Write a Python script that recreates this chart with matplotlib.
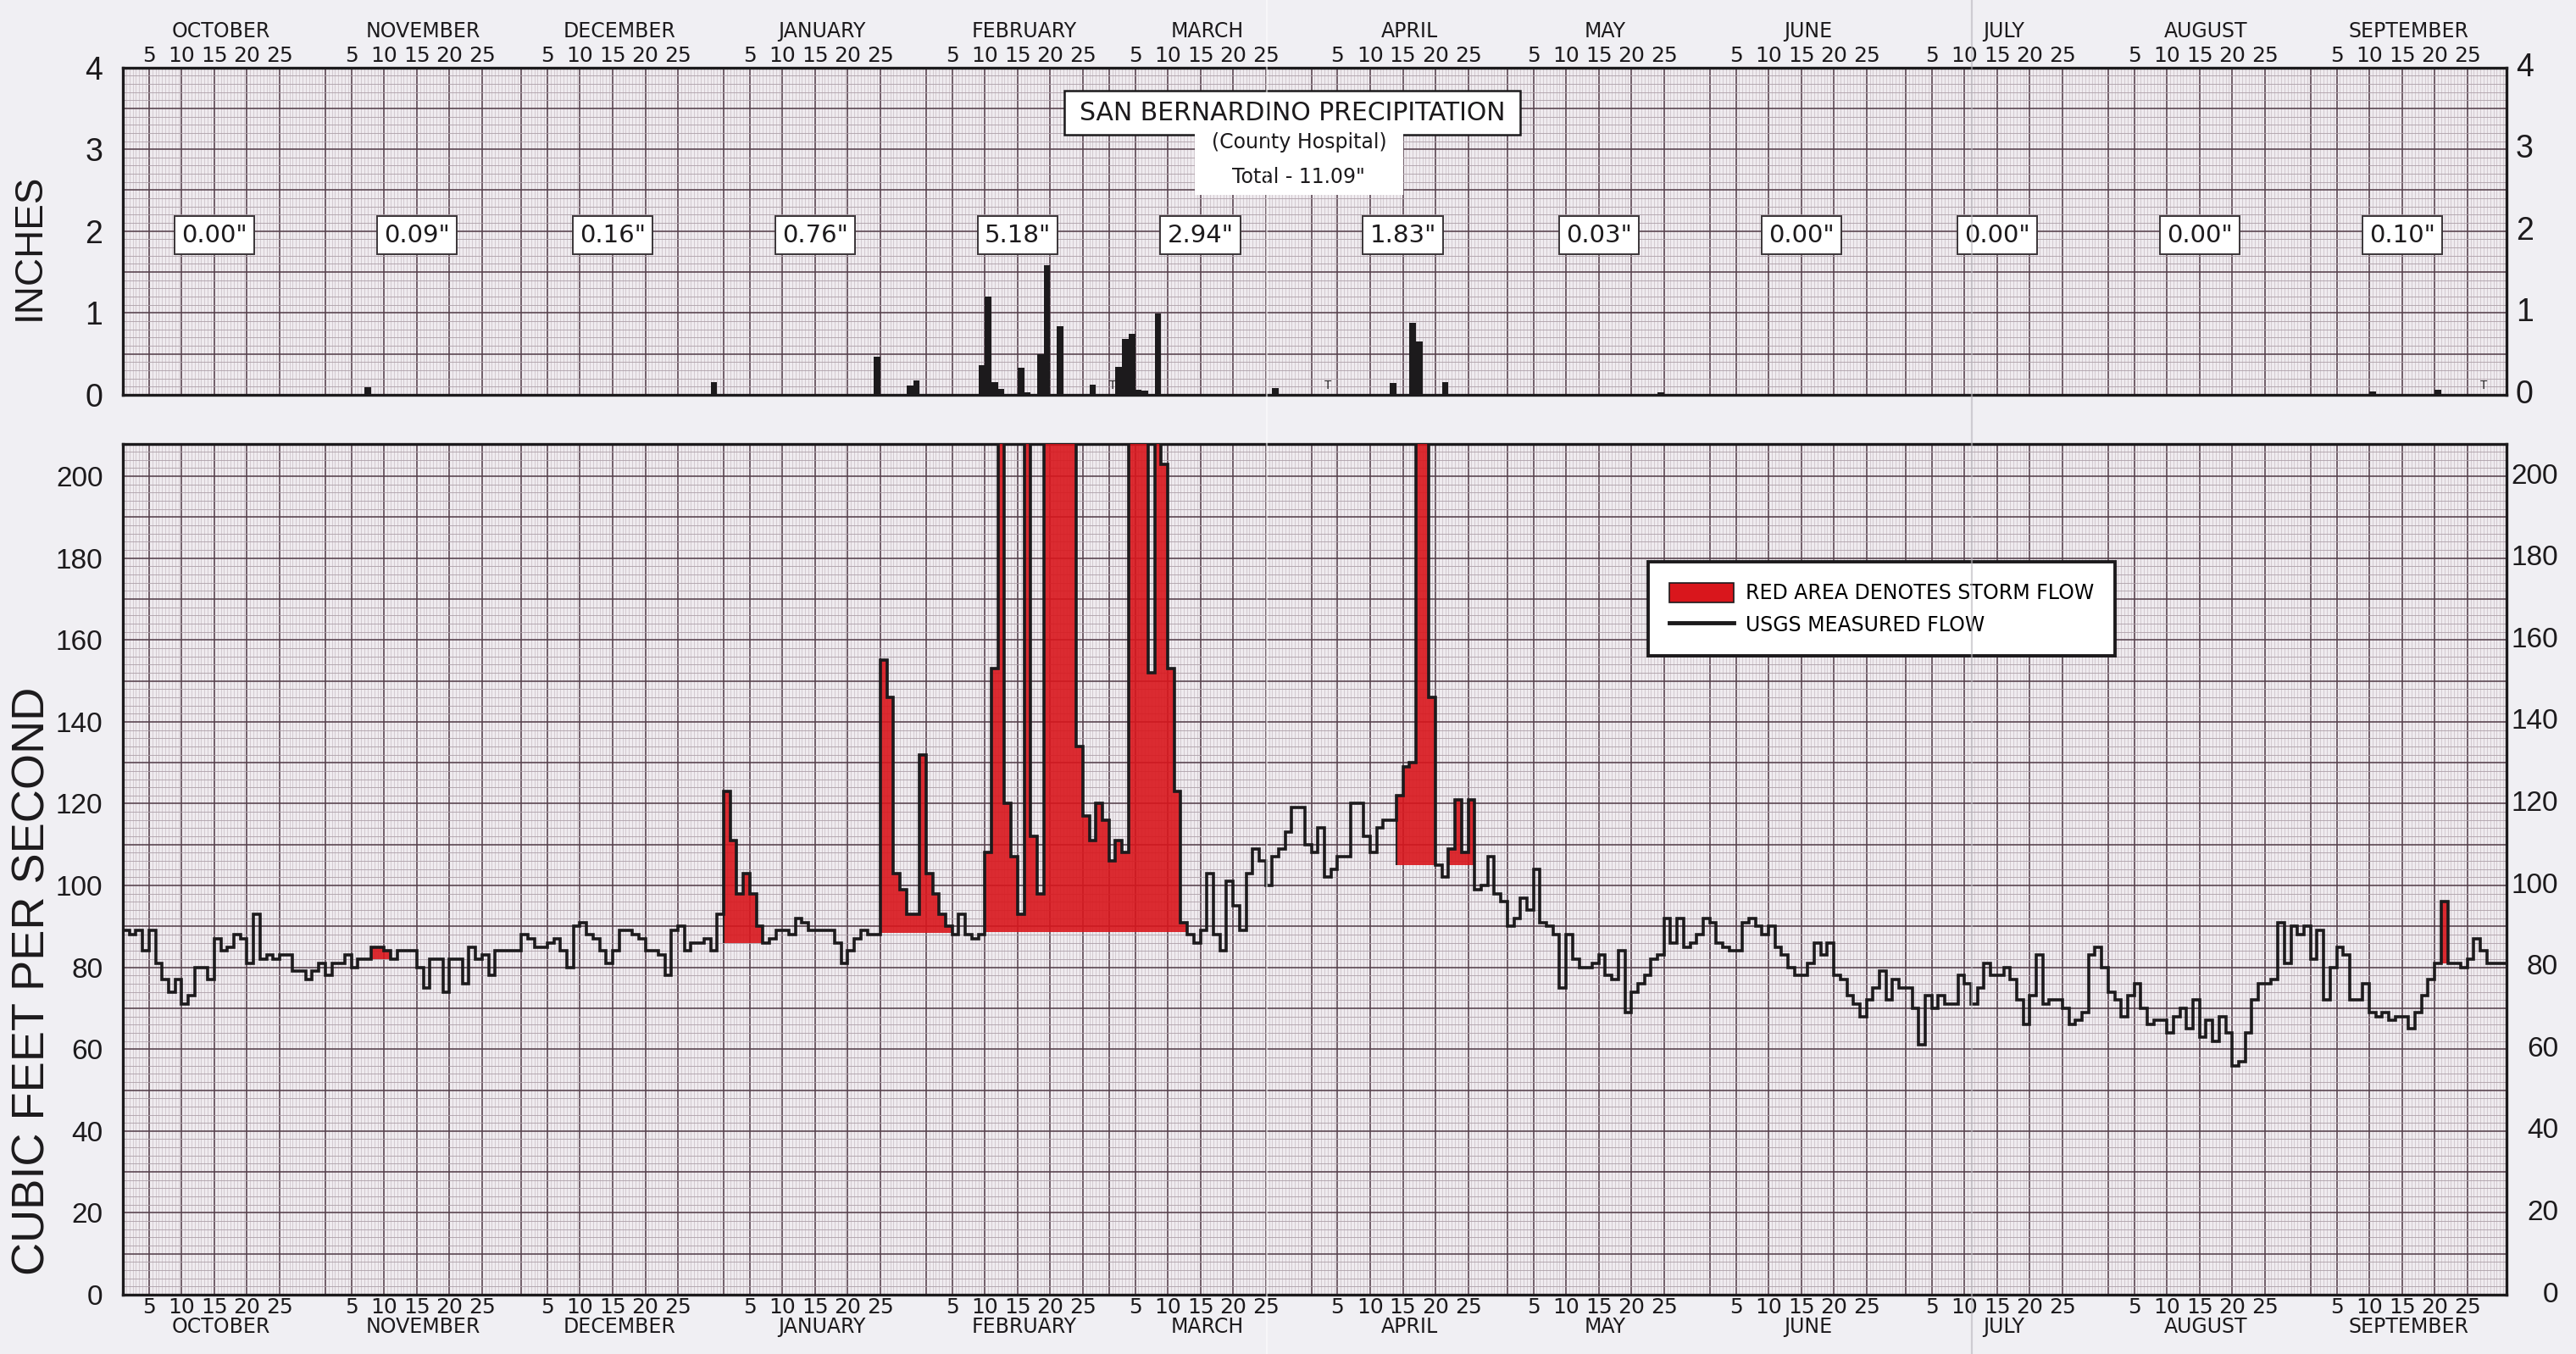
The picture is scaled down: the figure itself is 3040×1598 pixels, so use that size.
import numpy as np
import matplotlib.pyplot as plt
from matplotlib.patches import Patch, Rectangle
from matplotlib.lines import Line2D
from matplotlib.ticker import MultipleLocator, FuncFormatter

PAPER = '#f0eff3'
CELL = '#efebef'
MAJOR = '#55404b'
MINOR = '#ad9fa8'
FINE = '#c9bec5'
RED = '#d9161c'
INK = '#1c1a1c'

NARROW = ['Liberation Sans Narrow', 'DejaVu Sans']
SANS = ['Liberation Sans', 'DejaVu Sans']
CAD = ['DejaVu Sans']

months = ['OCTOBER', 'NOVEMBER', 'DECEMBER', 'JANUARY', 'FEBRUARY', 'MARCH',
          'APRIL', 'MAY', 'JUNE', 'JULY', 'AUGUST', 'SEPTEMBER']
month_days = [31, 30, 31, 31, 28, 31, 30, 31, 30, 31, 31, 30]
day_marks = [5, 10, 15, 20, 25]

# daily mean flow (cfs), water year Oct - Sep; 250 = off the top of the scale
oct_flow = [89, 88, 89, 84, 89, 81, 77, 74, 77, 71, 73, 80, 80, 77, 87, 84,
            85, 88, 87, 81, 93, 82, 83, 82, 83, 83, 79, 79, 77, 79, 81]
nov_flow = [78, 81, 81, 83, 80, 82, 82, 85, 85, 84, 82, 84, 84, 84, 80, 75,
            82, 82, 74, 82, 82, 76, 85, 82, 83, 78, 84, 84, 84, 84]
dec_flow = [88, 87, 85, 85, 86, 87, 84, 80, 90, 91, 88, 87, 84, 81, 84, 89,
            89, 88, 87, 84, 84, 83, 78, 89, 90, 84, 86, 86, 87, 84, 93]
jan_flow = [123, 111, 98, 103, 98, 90, 86, 87, 89, 89, 88, 92, 91, 89, 89, 89,
            89, 86, 81, 84, 87, 89, 88, 88, 155, 146, 103, 99, 93, 93, 132]
feb_flow = [103, 98, 93, 90, 88, 93, 88, 87, 88, 108, 153, 250, 120, 107, 93,
            250, 112, 98, 250, 250, 250, 250, 250, 134, 117, 111, 120, 116]
mar_flow = [106, 111, 108, 250, 250, 250, 152, 250, 203, 153, 123, 91, 88, 86,
            89, 103, 88, 84, 101, 95, 89, 103, 109, 106, 100, 107, 109, 113,
            119, 119, 110]
apr_flow = [108, 114, 102, 104, 107, 107, 120, 120, 112, 108, 114, 116, 116,
            122, 129, 130, 250, 250, 146, 105, 102, 109, 121, 108, 121, 99,
            100, 107, 98, 96]
may_flow = [90, 92, 97, 94, 104, 91, 90, 88, 75, 88, 82, 80, 80, 81, 83, 78,
            77, 84, 69, 74, 76, 78, 82, 83, 92, 86, 92, 85, 86, 88, 92]
jun_flow = [91, 86, 85, 84, 84, 91, 92, 90, 88, 90, 85, 83, 80, 78, 78, 81,
            86, 83, 86, 78, 77, 73, 71, 68, 72, 75, 79, 72, 77, 75]
jul_flow = [75, 70, 61, 73, 70, 73, 71, 71, 78, 76, 71, 75, 81, 78, 78, 80,
            77, 72, 66, 73, 83, 71, 72, 72, 70, 66, 67, 69, 83, 85, 80]
aug_flow = [74, 72, 68, 73, 76, 70, 66, 67, 67, 64, 68, 70, 65, 72, 63, 67,
            62, 68, 64, 56, 57, 64, 72, 76, 76, 77, 91, 81, 90, 88, 90]
sep_flow = [82, 89, 72, 80, 85, 83, 72, 72, 76, 69, 68, 69, 67, 68, 68, 65,
            69, 73, 77, 81, 96, 81, 81, 80, 82, 87, 84, 81, 81, 81]

# storm runoff: first day, day after last, base flow under the storm
storm_start = [38, 92, 116, 132, 195, 203, 355]
storm_end = [41, 98, 127, 163, 201, 207, 356]
storm_base = [82, 86, 88.5, 88.6, 105, 105, 81]

# daily precipitation (inches) by day of water year
rain_day = [37, 90, 115, 120, 121, 131, 132, 133, 134, 137, 138, 140, 141,
            143, 148, 152, 153, 154, 155, 156, 158, 176, 194, 197, 198, 202,
            235, 344, 354]
rain_in = [0.09, 0.16, 0.47, 0.11, 0.18, 0.36, 1.20, 0.15, 0.07, 0.33, 0.03,
           0.50, 1.58, 0.84, 0.12, 0.34, 0.68, 0.74, 0.06, 0.05, 0.99, 0.08,
           0.14, 0.88, 0.65, 0.16, 0.03, 0.04, 0.06]
trace_day = [151, 184, 361]

flow = np.array(oct_flow + nov_flow + dec_flow + jan_flow + feb_flow + mar_flow
                + apr_flow + may_flow + jun_flow + jul_flow + aug_flow + sep_flow,
                dtype=float)
edges = np.arange(len(flow) + 1)
n_days = len(flow)

month_start = np.concatenate([[0], np.cumsum(month_days)[:-1]])
month_of_rain = np.searchsorted(np.cumsum(month_days), rain_day, side='right')
totals = np.bincount(month_of_rain, weights=rain_in, minlength=12)

xt, xl = [], []
for s in month_start:
    xt.append(s)
    xl.append('')
    for d in day_marks:
        xt.append(s + d - 1)
        xl.append(str(d))
xt.append(n_days)
xl.append('')


def paper_grid(ax, ymajor, yminor):
    ax.set_facecolor(CELL)
    ax.set_xlim(0, n_days)
    ax.set_xticks(xt, xl)
    ax.xaxis.set_minor_locator(MultipleLocator(0.5))
    ax.yaxis.set_major_locator(MultipleLocator(ymajor))
    ax.yaxis.set_minor_locator(MultipleLocator(yminor))
    ax.grid(which='minor', axis='x', color=FINE, lw=0.5)
    ax.grid(which='minor', axis='y', color=MINOR, lw=0.6)
    ax.grid(which='major', color=MAJOR, lw=1.15)
    ax.set_axisbelow(True)
    ax.tick_params(which='both', length=0, colors=INK)
    for sp in ax.spines.values():
        sp.set_linewidth(2.4)
        sp.set_color(INK)


fig = plt.figure(figsize=(30.4, 15.98), dpi=100)
fig.patch.set_facecolor(PAPER)

# ---- precipitation panel ----
ax_p = fig.add_axes([0.0477, 0.7084, 0.9253, 0.2418])
paper_grid(ax_p, 0.5, 0.1)
ax_p.set_ylim(0, 4)
ax_p.xaxis.tick_top()
ax_p.tick_params(axis='x', labelsize=18, pad=1, labeltop=True, labelbottom=False)
for lab in ax_p.get_xticklabels():
    lab.set_fontfamily(NARROW)
ax_p.yaxis.set_major_formatter(
    FuncFormatter(lambda v, _: f'{v:.0f}' if abs(v - round(v)) < 1e-6 else ''))
ax_p.tick_params(axis='y', labelsize=27, pad=17)
for lab in ax_p.get_yticklabels():
    lab.set_fontfamily(SANS)
for v in range(5):
    ax_p.text(1.0039, v, str(v), transform=ax_p.get_yaxis_transform(),
              ha='left', va='center', fontsize=27, family=SANS, color=INK)

ax_p.bar(rain_day, rain_in, width=1.0, align='edge', color=INK, zorder=3)
for d in trace_day:
    ax_p.text(d + 0.5, 0.04, 'T', ha='center', va='bottom', fontsize=10,
              family=SANS, color=INK, zorder=4)

for s, name, t in zip(month_start, months, totals):
    ax_p.text(s + 14, 1.95, f'{t:.2f}"', ha='center', va='center', fontsize=21,
              family=NARROW, color=INK, zorder=5,
              bbox=dict(boxstyle='square,pad=0.28', fc='white', ec='#3a3538', lw=1.4))
    ax_p.text(s + 15, 1.11, name, transform=ax_p.get_xaxis_transform(),
              ha='center', va='center', fontsize=17, family=NARROW, color=INK)

ax_p.add_patch(Rectangle((0.3950, 0.794), 0.1913, 0.135, transform=ax_p.transAxes,
                         fc='white', ec=INK, lw=1.8, zorder=5))
ax_p.add_patch(Rectangle((0.4497, 0.612), 0.0873, 0.184, transform=ax_p.transAxes,
                         fc='white', ec='none', zorder=5))
ax_p.text(0.4906, 0.8615, 'SAN BERNARDINO PRECIPITATION', transform=ax_p.transAxes,
          ha='center', va='center', fontsize=21.5, family=CAD, color=INK, zorder=6)
ax_p.text(0.4934, 0.772, '(County Hospital)', transform=ax_p.transAxes,
          ha='center', va='center', fontsize=17, family=CAD, color=INK, zorder=6)
ax_p.text(0.4934, 0.665, f'Total - {totals.sum():.2f}"', transform=ax_p.transAxes,
          ha='center', va='center', fontsize=17, family=CAD, color=INK, zorder=6)

# ---- streamflow panel ----
ax_q = fig.add_axes([0.0477, 0.0438, 0.9253, 0.6286])
paper_grid(ax_q, 10, 2)
ax_q.set_ylim(0, 208)
ax_q.tick_params(axis='x', labelsize=18, pad=2)
for lab in ax_q.get_xticklabels():
    lab.set_fontfamily(NARROW)
ax_q.yaxis.set_major_formatter(
    FuncFormatter(lambda v, _: f'{v:.0f}' if round(v) % 20 == 0 else ''))
ax_q.tick_params(axis='y', labelsize=24, pad=17)
for lab in ax_q.get_yticklabels():
    lab.set_fontfamily(SANS)
for v in range(0, 201, 20):
    ax_q.text(1.0217, v, str(v), transform=ax_q.get_yaxis_transform(),
              ha='right', va='center', fontsize=24, family=SANS, color=INK)

for s, e, base in zip(storm_start, storm_end, storm_base):
    ax_q.stairs(flow[s:e], edges[s:e + 1], baseline=base, fill=True,
                facecolor=RED, edgecolor=INK, lw=1.6, alpha=0.9, zorder=2.6)
ax_q.stairs(flow, edges, baseline=None, color=INK, lw=2.6, zorder=3)

for s, name in zip(month_start, months):
    ax_q.text(s + 15, -0.038, name, transform=ax_q.get_xaxis_transform(),
              ha='center', va='center', fontsize=17, family=NARROW, color=INK)

handles = [Patch(facecolor=RED, edgecolor=INK, lw=1.2),
           Line2D([], [], color=INK, lw=3.5)]
leg = ax_q.legend(handles, ['RED AREA DENOTES STORM FLOW', 'USGS MEASURED FLOW'],
                  loc='upper left', bbox_to_anchor=(0.640, 0.861), frameon=True,
                  fancybox=False, framealpha=1, facecolor='white', edgecolor=INK,
                  prop={'family': CAD, 'size': 17}, handlelength=3.2,
                  handleheight=1.1, borderpad=1.05, labelspacing=0.55,
                  handletextpad=0.6, borderaxespad=0)
leg.get_frame().set_linewidth(2.8)
leg.set_zorder(6)

fig.text(35 / 3040, 1 - 291 / 1598, 'INCHES', rotation=90, ha='center',
         va='center', fontsize=33, family=SANS, color=INK)
fig.text(39 / 3040, 1 - 1158 / 1598, 'CUBIC FEET PER SECOND', rotation=90,
         ha='center', va='center', fontsize=39, family=SANS, color=INK)

# creases in the sheet
for fx, c, a in [(1495 / 3040, 'white', 0.55), (2327 / 3040, '#b8b6bc', 0.6)]:
    fig.add_artist(Line2D([fx, fx], [0, 1], transform=fig.transFigure,
                          color=c, lw=1.6, alpha=a, zorder=10))

fig.savefig('out.png', dpi=100, facecolor=PAPER)
